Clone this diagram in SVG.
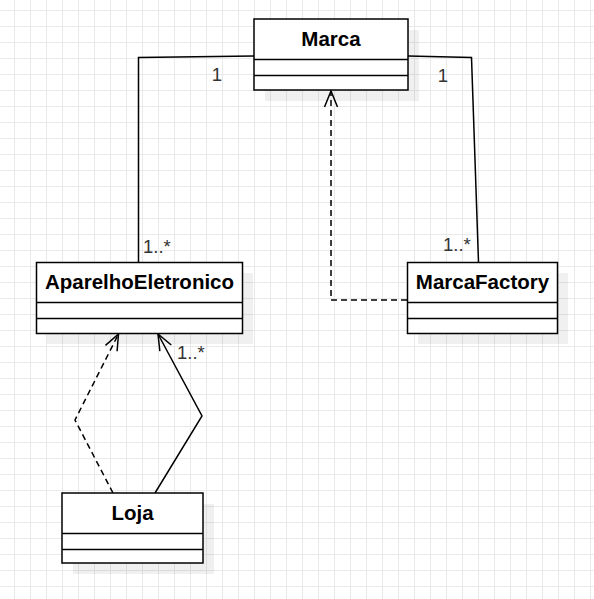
<svg xmlns="http://www.w3.org/2000/svg" width="594" height="599" viewBox="0 0 594 599">
  <defs>
    <pattern id="grid" x="14" y="10" width="16" height="16" patternUnits="userSpaceOnUse">
      <path d="M0.5,0 V16 M0,0.5 H16" fill="none" stroke="#e9e9e9" stroke-width="1"/>
    </pattern>
    <marker id="open" markerUnits="userSpaceOnUse" markerWidth="40" markerHeight="40" viewBox="-20 -20 40 40" refX="0" refY="0" orient="auto" overflow="visible">
      <path d="M-16,-6.5 L0,0 L-16,6.5" fill="none" stroke="#000" stroke-width="1.5"/>
    </marker>
  </defs>
  <style>
    .shadow { fill: #000; fill-opacity: 0.06; stroke: none; }
    .box { fill: #fff; stroke: #000; stroke-width: 1.5; }
    .div { stroke: #000; stroke-width: 1.5; fill: none; }
    .title { font-family: "Liberation Sans", Arial, sans-serif; font-weight: bold; font-size: 20.5px; fill: #000; text-anchor: middle; }
    .lbl { font-family: "Liberation Sans", Arial, sans-serif; font-size: 18.5px; fill: #333; }
    .edge { fill: none; stroke: #000; stroke-width: 1.5; }
    .dash { stroke-dasharray: 6 4; }
  </style>
  <rect x="0" y="0" width="594" height="599" fill="#fff"/>
  <rect x="0" y="0" width="594" height="599" fill="url(#grid)"/>

  <g id="connectors">
    <polyline class="edge" points="254,56 138.5,57.5 138.5,262"/>
    <polyline class="edge" points="408,56 471.5,57.5 478.5,262"/>
    <polyline class="edge dash" points="407,300 331,300 331,91" marker-end="url(#open)"/>
    <polyline class="edge dash" points="113,493 75,420 118.5,334" marker-end="url(#open)"/>
    <polyline class="edge" points="155,493 202,416 158,334" marker-end="url(#open)"/>
    <text class="lbl" x="217" y="81" text-anchor="middle">1</text>
    <text class="lbl" x="443" y="82" text-anchor="middle">1</text>
    <text class="lbl" x="143" y="253">1..*</text>
    <text class="lbl" x="443" y="251">1..*</text>
    <text class="lbl" x="177" y="359">1..*</text>
  </g>

  <g id="Marca">
    <rect class="shadow" x="265" y="30" width="154" height="71"/>
    <rect class="box" x="254" y="19" width="154" height="71"/>
    <path class="div" d="M254,59.5 H408 M254,75.5 H408"/>
    <text class="title" x="331" y="46">Marca</text>
  </g>

  <g id="AparelhoEletronico">
    <rect class="shadow" x="47" y="273" width="206" height="71"/>
    <rect class="box" x="36.5" y="262.5" width="206" height="71"/>
    <path class="div" d="M36.5,302.5 H242.5 M36.5,318.5 H242.5"/>
    <text class="title" x="139.5" y="289">AparelhoEletronico</text>
  </g>

  <g id="MarcaFactory">
    <rect class="shadow" x="418" y="273" width="150" height="71"/>
    <rect class="box" x="407.5" y="262.5" width="150" height="71"/>
    <path class="div" d="M407.5,302.5 H557.5 M407.5,318.5 H557.5"/>
    <text class="title" x="482.5" y="289">MarcaFactory</text>
  </g>

  <g id="Loja">
    <rect class="shadow" x="73" y="504" width="141" height="70"/>
    <rect class="box" x="62" y="493" width="141" height="70"/>
    <path class="div" d="M62,533.5 H203 M62,549.5 H203"/>
    <text class="title" x="132.5" y="520">Loja</text>
  </g>
</svg>
